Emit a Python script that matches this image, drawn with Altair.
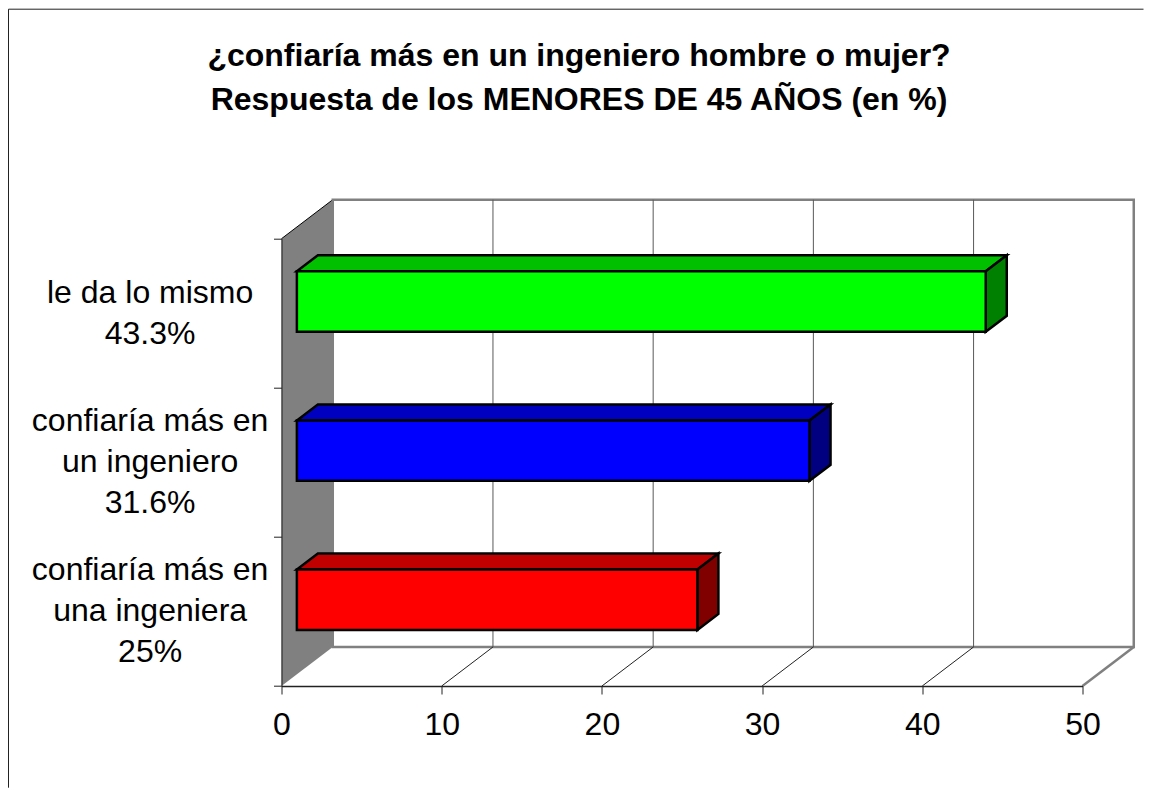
import altair as alt
import pandas as pd

# ---- values ----
categories = ["confiaría más en\nuna ingeniera\n25%",
              "confiaría más en\nun ingeniero\n31.6%",
              "le da lo mismo\n43.3%"]
values = [25, 32, 43]
front_colors = ["#FF0000", "#0000FF", "#00FF00"]
top_colors = ["#C00000", "#0000C0", "#00C000"]
side_colors = ["#800000", "#000080", "#008000"]
x_ticks = [0, 10, 20, 30, 40, 50]
y_ticks = [0, 1, 2, 3]
grid_values = [10, 20, 30, 40]
title_lines = ["¿confiaría más en un ingeniero hombre o mujer?",
               "Respuesta de los MENORES DE 45 AÑOS (en %)"]

# ---- pseudo-3D geometry, in data units ----
DX, DY = 3.2, 0.2616      # depth of the box
D1, D2 = 0.30, 0.71       # depth span of the bars
HALF = 0.2026             # half bar height
XMAX, YMAX = 50, 3
LABEL_X = -8.2
LINE_SHIFT = 0.1375       # half a text line, in y units
FONT = "Liberation Sans"

xs = alt.Scale(domain=[0, XMAX], nice=False, zero=False)
ys = alt.Scale(domain=[0, YMAX], nice=False, zero=False)
x_axis = alt.Axis(values=x_ticks, grid=False, tickSize=8, domainColor="#222222",
                  domainWidth=1.5, tickColor="#222222", labelFontSize=32, labelFont=FONT,
                  labelColor="black", labelPadding=15, title=None, zindex=1,
                  labelFlush=False, labelOverlap=False)
y_axis = alt.Axis(values=y_ticks, grid=False, tickSize=8, domainColor="#222222",
                  tickColor="#222222", labels=False, title=None, zindex=1)
X = alt.X("x:Q", scale=xs, axis=x_axis)
Y = alt.Y("y:Q", scale=ys, axis=y_axis)

# walls
wall = pd.DataFrame({"x": [0, DX], "y": [0, DY], "y2": [YMAX, YMAX + DY]})
left_wall = alt.Chart(wall).mark_area(orient="vertical", fill="#808080").encode(
    x=X, y=Y, y2="y2:Q")
left_edge = alt.Chart(pd.DataFrame({"x": [0, DX], "y": [YMAX, YMAX + DY]})).mark_line(
    color="black", strokeWidth=1).encode(x=X, y=Y)

back = pd.DataFrame({"x": [DX], "x2": [XMAX + DX], "y": [DY], "y2": [YMAX + DY]})
back_wall = alt.Chart(back).mark_rect(fill="white", stroke="#808080", strokeWidth=2.5).encode(
    x=X, x2="x2:Q", y=Y, y2="y2:Q")

grid = pd.DataFrame({"x": [v + DX for v in grid_values]})
grid_rules = alt.Chart(grid.assign(y=DY, y2=YMAX + DY)).mark_rule(
    color="#595959", strokeWidth=1).encode(x=X, y=Y, y2="y2:Q")

floor_rows = [{"k": v, "x": v + d * DX, "y": d * DY} for v in grid_values for d in (0, 1)]
floor_lines = alt.Chart(pd.DataFrame(floor_rows)).mark_line(
    color="#222222", strokeWidth=1).encode(x=X, y=Y, detail="k:N")
end_rows = [{"x": XMAX + d * DX, "y": d * DY} for d in (0, 1)]
floor_end = alt.Chart(pd.DataFrame(end_rows)).mark_line(
    color="#808080", strokeWidth=2.5).encode(x=X, y=Y)

# bars
front_rows, top_rows, side_rows = [], [], []
for i, (v, fc, tc, sc) in enumerate(zip(values, front_colors, top_colors, side_colors)):
    c = i + 0.5
    lo, hi = c - HALF, c + HALF
    front_rows.append({"k": i, "fill": fc, "x": D1 * DX, "x2": v + D1 * DX,
                       "y": lo + D1 * DY, "y2": hi + D1 * DY})
    for d in (D1, D2):
        top_rows.append({"k": i, "fill": tc, "x": d * DX, "x2": v + d * DX, "y": hi + d * DY})
        side_rows.append({"k": i, "fill": sc, "x": v + d * DX, "y": lo + d * DY, "y2": hi + d * DY})

STROKE = dict(stroke="black", strokeWidth=2.5, strokeJoin="miter")
fill = alt.Fill("fill:N", scale=None)
tops = alt.Chart(pd.DataFrame(top_rows)).mark_area(orient="horizontal", **STROKE).encode(
    x=X, x2="x2:Q", y=Y, fill=fill, detail="k:N")
sides = alt.Chart(pd.DataFrame(side_rows)).mark_area(orient="vertical", **STROKE).encode(
    x=X, y=Y, y2="y2:Q", fill=fill, detail="k:N")
fronts = alt.Chart(pd.DataFrame(front_rows)).mark_rect(**STROKE).encode(
    x=X, x2="x2:Q", y=Y, y2="y2:Q", fill=fill)

# category labels: vega anchors a multi-line text on its first line
labels = pd.DataFrame({
    "t": categories,
    "x": [LABEL_X] * 3,
    "y": [i + 0.5 + t.count("\n") * LINE_SHIFT for i, t in enumerate(categories)],
})
label_text = alt.Chart(labels).mark_text(
    font=FONT, fontSize=32, lineBreak="\n", lineHeight=41, align="center",
    baseline="middle", color="black").encode(x=X, y=Y, text="t:N")

# frame of the chart area (top and left edges are the visible ones)
frame_left = alt.Chart(pd.DataFrame({"a": [0]})).mark_rule(color="#222222", strokeWidth=1).encode(
    x=alt.value(-273), y=alt.value(-229.5), y2=alt.value(549))
frame_top = alt.Chart(pd.DataFrame({"a": [0]})).mark_rule(color="#222222", strokeWidth=1).encode(
    x=alt.value(-273), x2=alt.value(862), y=alt.value(-229.5))

chart = alt.layer(
    left_wall, left_edge, back_wall, grid_rules, floor_lines, floor_end,
    tops, sides, fronts, label_text, frame_left, frame_top,
).properties(
    width=801, height=447.3,
    background="white",
    padding={"left": 273.5, "top": 230.7, "right": 61.5, "bottom": 102},
    autosize=alt.AutoSizeParams(type="none"),
    title=alt.TitleParams(text=title_lines, font=FONT, fontSize=32, fontWeight="bold",
                          color="black", anchor="middle", dx=-103, offset=0, dy=108,
                          lineHeight=44),
).configure_view(stroke=None)

chart.save("out.html", embed_options={"renderer": "svg", "actions": False})
